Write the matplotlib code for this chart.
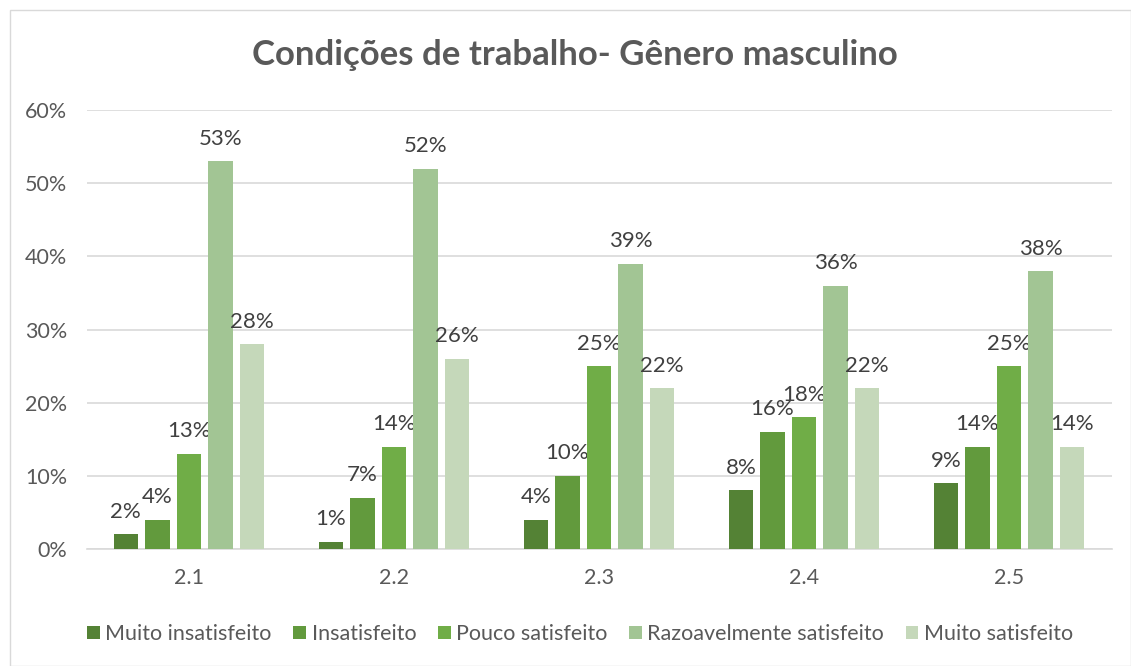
import matplotlib
matplotlib.use("Agg")
import matplotlib.pyplot as plt
import numpy as np
from matplotlib.patches import Rectangle

categories = ["2.1", "2.2", "2.3", "2.4", "2.5"]
series_names = ["Muito insatisfeito", "Insatisfeito", "Pouco satisfeito",
                "Razoavelmente satisfeito", "Muito satisfeito"]
muito_insatisfeito = [2, 1, 4, 8, 9]
insatisfeito = [4, 7, 10, 16, 14]
pouco_satisfeito = [13, 14, 25, 18, 25]
razoavelmente_satisfeito = [53, 52, 39, 36, 38]
muito_satisfeito = [28, 26, 22, 22, 14]
series_values = [muito_insatisfeito, insatisfeito, pouco_satisfeito,
                 razoavelmente_satisfeito, muito_satisfeito]
yticks = [0, 10, 20, 30, 40, 50, 60]
colors = ['#548235', '#629A3D', '#70AD47', '#A2C594', '#C5D8BA']

plt.rcParams['font.family'] = ['Lato', 'DejaVu Sans']
fig = plt.figure(figsize=(11.31, 6.66), dpi=100)
W, H = 1131, 666
ax = fig.add_axes([86.5 / W, 1 - 549 / H, (1111.5 - 86.5) / W, (549 - 110) / H])

fig.patches.append(Rectangle((10 / W, 0), 1 - 10 / W, 1 - 10 / H, transform=fig.transFigure,
                             fill=False, edgecolor='#D9D9D9', linewidth=1))

x = np.arange(len(categories))
step = 0.154
width = 0.118
for i, (name, vals, c) in enumerate(zip(series_names, series_values, colors)):
    pos = x + (i - 2) * step
    ax.bar(pos, vals, width=width, color=c, label=name, zorder=3)
    for p, v in zip(pos, vals):
        ax.text(p, v + 1.7, f"{v}%", ha='center', va='bottom', fontsize=16, color='#404040')

ax.set_xlim(-0.5, len(categories) - 0.5)
ax.set_ylim(0, 60)
ax.set_yticks(yticks)
ax.set_yticklabels([f"{t}%" for t in yticks])
ax.set_xticks(x)
ax.set_xticklabels(categories)
ax.tick_params(axis='both', length=0, labelsize=15.5, colors='#595959')
ax.tick_params(axis='x', pad=14)
ax.tick_params(axis='y', pad=14)
ax.yaxis.grid(True, color='#D9D9D9', linewidth=1.2, zorder=0)
for s in ['top', 'right', 'left']:
    ax.spines[s].set_visible(False)
ax.spines['bottom'].set_color('#D9D9D9')
ax.spines['bottom'].set_linewidth(1.2)

fig.text(0.508, 1 - 55 / H, "Condições de trabalho- Gênero masculino", ha='center', va='center',
         fontsize=25, fontweight='bold', color='#595959')

leg = fig.legend(loc='center', bbox_to_anchor=(580 / W, 1 - 634 / H), ncol=5, frameon=False,
                 fontsize=15.5, handlelength=0.6, handleheight=0.6, handletextpad=0.25,
                 columnspacing=1.0, labelcolor='#595959')

fig.savefig("out.png", dpi=100)
